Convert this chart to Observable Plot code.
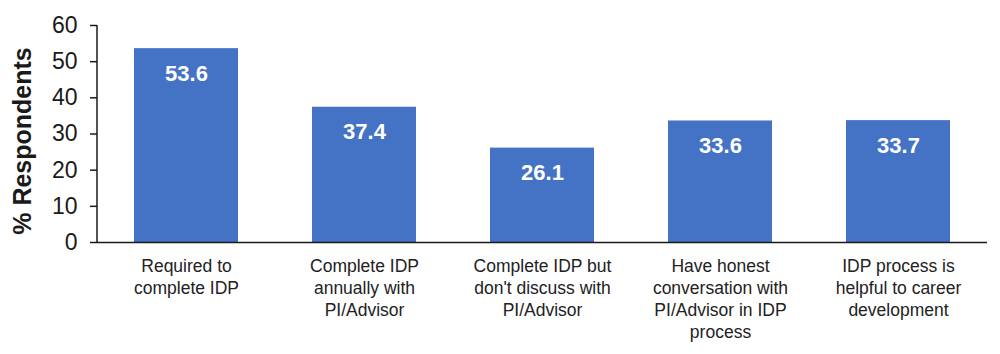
<!DOCTYPE html>
<html>
<head>
<meta charset="utf-8">
<script src="https://cdn.jsdelivr.net/npm/d3@7"></script>
<script src="https://cdn.jsdelivr.net/npm/@observablehq/plot@0.6"></script>
<style>
  html, body { margin: 0; padding: 0; background: #fff; }
  #chart svg { display: block; font-family: "Liberation Sans", Arial, sans-serif; }
</style>
</head>
<body>
<div id="chart"></div>
<script>
const categories = [
  "Required to\ncomplete IDP",
  "Complete IDP\nannually with\nPI/Advisor",
  "Complete IDP but\ndon't discuss with\nPI/Advisor",
  "Have honest\nconversation with\nPI/Advisor in IDP\nprocess",
  "IDP process is\nhelpful to career\ndevelopment"
];
const values = [53.6, 37.4, 26.1, 33.6, 33.7];
const yTicks = [0, 10, 20, 30, 40, 50, 60];
const yTitle = "% Respondents";

const data = categories.map((c, i) => ({category: c, value: values[i]}));

// vertical axis line drawn from the y scale
function yAxisLine(index, scales, values, dimensions) {
  const g = document.createElementNS("http://www.w3.org/2000/svg", "line");
  const x = dimensions.marginLeft;
  g.setAttribute("x1", x);
  g.setAttribute("x2", x);
  g.setAttribute("y1", scales.y(0));
  g.setAttribute("y2", scales.y(60));
  g.setAttribute("stroke", "#1a1a1a");
  g.setAttribute("stroke-width", 1.5);
  return g;
}

const chart = Plot.plot({
  width: 1000,
  height: 354,
  marginLeft: 97,
  marginRight: 13,
  marginTop: 25,
  marginBottom: 112,
  style: {fontFamily: "Liberation Sans, Arial, sans-serif", color: "#1a1a1a", background: "#fff"},
  x: {domain: categories, paddingInner: 0.416, paddingOuter: 0.208, label: null},
  y: {domain: [0, 60]},
  marks: [
    Plot.barY(data, {x: "category", y: "value", fill: "#4472C4"}),
    Plot.ruleY([0], {stroke: "#1a1a1a", strokeWidth: 1.5}),
    Plot.axisY({
      ticks: yTicks, tickSize: 7, tickPadding: 13, fontSize: 23,
      label: null, stroke: "#1a1a1a", strokeWidth: 1.5
    }),
    yAxisLine,
    Plot.text([yTitle], {frameAnchor: "left", text: d => d, rotate: -90, textAnchor: "middle", dx: -75, dy: 7, fontSize: 25, fontWeight: "bold", fill: "#1a1a1a"}),
    Plot.axisX({tickSize: 0, tickPadding: 14, fontSize: 17.5, lineHeight: 1.26, label: null, fill: "#222"}),
    Plot.text(data, {x: "category", y: "value", text: d => d.value.toFixed(1), dy: 25, fill: "white", fontSize: 22, fontWeight: "bold"})
  ]
});
document.getElementById("chart").appendChild(chart);
</script>
</body>
</html>
